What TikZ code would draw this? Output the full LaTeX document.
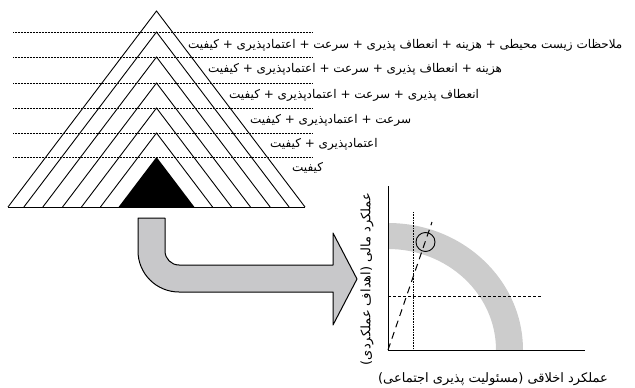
\documentclass[tikz,border=0pt]{standalone}
\usepackage{fontspec}
\newfontfamily\fa[Script=Arabic]{DejaVu Sans}
\TeXXeTstate=1
\definecolor{bandgray}{RGB}{204,204,204}
\definecolor{arrowgray}{RGB}{200,200,202}
\tikzset{
  tri/.style={line width=0.9pt, line join=miter},
  dotline/.style={densely dotted, line width=0.5pt},
  lbl/.style={font=\fa\fontsize{12}{13}\selectfont, inner sep=0pt, anchor=west},
  axislbl/.style={font=\fa\fontsize{13}{14}\selectfont, inner sep=0pt},
  axis/.style={line width=0.8pt},
  bigarrow/.style={draw=black, fill=arrowgray, line width=1pt, line join=round},
}
\begin{document}
\begin{tikzpicture}[x=1pt,y=-1pt]
\useasboundingbox (0,0) rectangle (635,388);
% nested triangles
\foreach \a in {11,32,57,83,108,133} {
  \pgfmathsetmacro\h{0.7577*(207-\a)}
  \draw[tri] ({156.5-\h},207) -- (156.5,\a) -- ({156.5+\h},207);
}
\fill[black] (118.6,207) -- (156.5,157) -- (194.4,207) -- cycle;
\draw[tri] (8,207) -- (305,207);
% dotted lines
\foreach \y in {32,57,83,108,133,157} {
  \draw[dotline] (13,\y) -- (312,\y);
}
% labels
\node[lbl] (l1) at (188,45) {\beginR ملاحظات زیست محیطی + هزینه + انعطاف پذیری + سرعت + اعتمادپذیری + کیفیت\endR};
\node[lbl] (l2) at (208,69) {\beginR هزینه + انعطاف پذیری + سرعت + اعتمادپذیری + کیفیت\endR};
\node[lbl] (l3) at (229,95) {\beginR انعطاف پذیری + سرعت + اعتمادپذیری + کیفیت\endR};
\node[lbl] (l4) at (250,120.5) {\beginR سرعت + اعتمادپذیری + کیفیت\endR};
\node[lbl] (l5) at (270,144) {\beginR اعتمادپذیری + کیفیت\endR};
\node[lbl] (l6) at (292,168) {\beginR کیفیت\endR};
% bent arrow
\draw[bigarrow] (138,218) -- (165,218) -- (165,251)
  arc[start angle=180, end angle=90, radius=14] -- (333,265) -- (333,233)
  -- (357,279) -- (333,325) -- (333,292) -- (179,292)
  arc[start angle=90, end angle=180, radius=41] -- cycle;
% chart
\fill[bandgray] (523,350) arc[start angle=0, end angle=-90, x radius=135, y radius=127]
  -- (388,249) arc[start angle=-90, end angle=0, x radius=108, y radius=101] -- cycle;
\coordinate (O) at (388,350);
\coordinate (ytop) at (388,186);
\coordinate (xend) at (585,350);
\draw[axis] (ytop) -- (O) -- (xend);
\draw[densely dotted, line width=0.6pt] (413,212) -- (413,350);
\draw[dashed, line width=0.6pt, dash pattern=on 3pt off 2pt] (388,296) -- (541,296);
\coordinate (dtop) at (432,222);
\draw[line width=1pt, dash pattern=on 7pt off 5pt] (O) -- (dtop);
\node[draw, circle, line width=0.9pt, minimum size=19pt, inner sep=0pt] (c) at (425.5,242) {};
\node[axislbl, rotate=90] (ylab) at (367,279) {\beginR عملکرد مالی (اهداف عملکردی)\endR};
\node[axislbl] (xlab) at (493,379) {\beginR عملکرد اخلاقی (مسئولیت پذیری اجتماعی)\endR};
\end{tikzpicture}
\end{document}
